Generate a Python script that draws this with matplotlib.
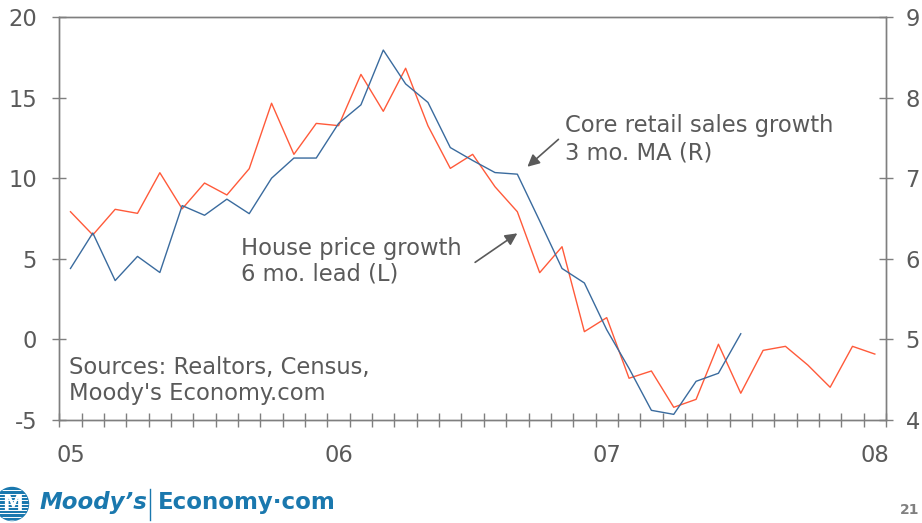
import matplotlib
matplotlib.use("Agg")
import matplotlib.pyplot as plt
from matplotlib.lines import Line2D
from matplotlib.patches import Circle
from matplotlib.transforms import IdentityTransform
import numpy as np

plt.rcParams["axes.unicode_minus"] = False

# monthly categories Jan-05 .. Jan-08
year_labels = ["05", "06", "07", "08"]
year_positions = [0, 12, 24, 36]

# house price growth, 6 mo. lead (left axis, %)
house_price = [7.92, 6.48, 8.07, 7.82, 10.34, 8.10, 9.70, 8.96, 10.59, 14.65,
               11.48, 13.40, 13.26, 16.44, 14.15, 16.82, 13.25, 10.61, 11.48, 9.47,
               7.92, 4.14, 5.75, 0.48, 1.35, -2.41, -1.96, -4.21, -3.72, -0.30,
               -3.34, -0.68, -0.43, -1.59, -2.97, -0.43, -0.91]

# core retail sales growth, 3 mo. MA (right axis, %)
retail_sales = [5.88, 6.32, 5.73, 6.03, 5.83, 6.66, 6.54, 6.74, 6.56, 7.00,
                7.25, 7.25, 7.68, 7.91, 8.59, 8.17, 7.94, 7.38, 7.22, 7.07,
                7.05, 6.47, 5.88, 5.70, 5.12, 4.64, 4.12, 4.07, 4.48, 4.58,
                5.07]

RED = "#FF5A3A"
BLUE = "#3A6B9E"
GREY = "#5A5A5A"
AXIS = "#7F7F7F"
LOGO = "#1A78AE"
FS = 16.3

W, H = 922, 523
fig = plt.figure(figsize=(W / 100, H / 100), dpi=100)
ax = fig.add_axes([59.3 / W, 1 - 420 / H, (886 - 59.3) / W, (420 - 17) / H])
ax2 = ax.twinx()

x_house = np.arange(len(house_price))
x_retail = np.arange(len(retail_sales))
ax.plot(x_house, house_price, color=RED, lw=1.0)
ax2.plot(x_retail, retail_sales, color=BLUE, lw=1.0)

ax.set_xlim(-0.5, len(house_price) - 0.5)
ax.set_ylim(-5, 20)
ax2.set_ylim(4, 9)
ax.set_yticks([-5, 0, 5, 10, 15, 20])
ax2.set_yticks([4, 5, 6, 7, 8, 9])

# tick marks between months, labels at January
ax.set_xticks(np.arange(-0.5, len(house_price)), labels=[])
ax.set_xticks(year_positions, labels=year_labels, minor=True)
ax.tick_params(axis="x", which="major", direction="inout", length=9.5,
               width=1.0, color=AXIS)
ax.tick_params(axis="x", which="minor", length=0, pad=17, labelsize=FS,
               labelcolor=GREY)
ax.tick_params(axis="y", direction="inout", length=10, width=1.0, color=AXIS,
               pad=11, labelsize=FS, labelcolor=GREY)
ax2.tick_params(axis="y", direction="inout", length=10, width=1.0, color=AXIS,
                pad=9, labelsize=FS, labelcolor=GREY)

for a in (ax, ax2):
    for s in a.spines.values():
        s.set_color(AXIS)
        s.set_linewidth(1.0)

ax.text(22.14, 14.0, "Core retail sales growth\n3 mo. MA (R)", fontsize=FS,
        color=GREY, va="top", ha="left", linespacing=1.27)
ax.annotate("", xy=(20.45, 10.71), xytext=(21.84, 12.41),
            arrowprops=dict(arrowstyle="-|>", color=GREY, lw=1.2,
                            mutation_scale=18, shrinkA=0, shrinkB=0))
ax.text(7.63, 6.38, "House price growth\n6 mo. lead (L)", fontsize=FS,
        color=GREY, va="top", ha="left", linespacing=1.15)
ax.annotate("", xy=(20.0, 6.58), xytext=(18.11, 4.78),
            arrowprops=dict(arrowstyle="-|>", color=GREY, lw=1.2,
                            mutation_scale=18, shrinkA=0, shrinkB=0))
ax.text(-0.06, -1.05, "Sources: Realtors, Census,\nMoody's Economy.com",
        fontsize=FS, color=GREY, va="top", ha="left", linespacing=1.15)

# footer logo
circ = Circle((12, H - 504), 16.5, color=LOGO, transform=IdentityTransform())
fig.patches.append(circ)
for yy in np.arange(H - 520, H - 487, 3.3):
    stripe = Line2D([-5, 30], [yy, yy], color="white", lw=0.7,
                    transform=IdentityTransform())
    stripe.set_clip_path(circ)
    fig.lines.append(stripe)
fig.text(12 / W, 1 - 504 / H, "M", fontsize=15, color="white", weight="bold",
         ha="center", va="center")
fig.text(40 / W, 1 - 503 / H, "Moody\u2019s", fontsize=16.5, color=LOGO,
         weight="bold", style="italic", ha="left", va="center")
fig.lines.append(Line2D([150 / W, 150 / W], [1 - 489 / H, 1 - 520 / H],
                        color=LOGO, lw=1.0, transform=fig.transFigure))
fig.text(158 / W, 1 - 503 / H, "Economy\u00b7com", fontsize=16.5, color=LOGO,
         weight="bold", ha="left", va="center")
fig.text(919 / W, 1 - 510 / H, "21", fontsize=10, color="#808080",
         weight="bold", ha="right", va="center")

fig.savefig("out.png", dpi=100)
